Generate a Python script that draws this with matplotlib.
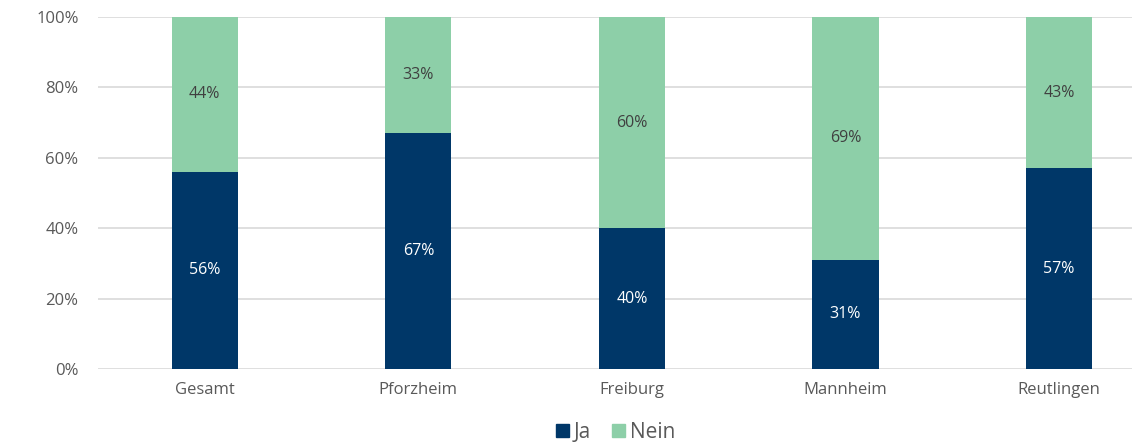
import matplotlib
matplotlib.use("Agg")
import matplotlib.pyplot as plt
from matplotlib.patches import Patch
import numpy as np

plt.rcParams['font.family'] = ['Open Sans', 'DejaVu Sans']

# data
categories = ['Gesamt', 'Pforzheim', 'Freiburg', 'Mannheim', 'Reutlingen']
ja = [56, 67, 40, 31, 57]
nein = [44, 33, 60, 69, 43]

col_ja = '#003768'
col_nein = '#8dcfa8'
grey = '#595959'

fig = plt.figure(figsize=(11.32, 4.46), dpi=100)
ax = fig.add_axes([98/1132, 1 - 369/446, 1 - 98/1132, (369 - 17)/446])

x = np.arange(len(categories))
w = 0.31
b1 = ax.bar(x, ja, w, color=col_ja, zorder=3)
b2 = ax.bar(x, nein, w, bottom=ja, color=col_nein, zorder=3)

for i in range(len(categories)):
    ax.text(x[i], ja[i]/2, "%d%%" % ja[i], ha='center', va='center',
            color='white', fontsize=11.5, zorder=4)
    ax.text(x[i], ja[i] + nein[i]/2, "%d%%" % nein[i], ha='center', va='center',
            color='#404040', fontsize=11.5, zorder=4)

ax.set_xlim(-0.5, (1132 - 205)/213.5)
ax.set_ylim(0, 100)
ax.set_yticks([0, 20, 40, 60, 80, 100])
ax.set_yticklabels(["%d%%" % t for t in [0, 20, 40, 60, 80, 100]])
ax.set_xticks(x)
ax.set_xticklabels(categories)
ax.tick_params(axis='both', length=0, colors=grey, labelsize=12)
ax.tick_params(axis='x', pad=9)
ax.tick_params(axis='y', pad=14)
ax.grid(axis='y', color='#d9d9d9', linewidth=1.2, zorder=0)
for s in ax.spines.values():
    s.set_visible(False)

handles = [Patch(color=col_ja, label='Ja'), Patch(color=col_nein, label='Nein')]
fig.legend(handles=handles, loc='center', bbox_to_anchor=(0.544, 1 - 432/446),
           ncol=2, frameon=False, fontsize=15, handlelength=0.6, handleheight=0.6,
           handletextpad=0.25, columnspacing=1.0, labelcolor=grey)

fig.savefig('out.png', dpi=100)
